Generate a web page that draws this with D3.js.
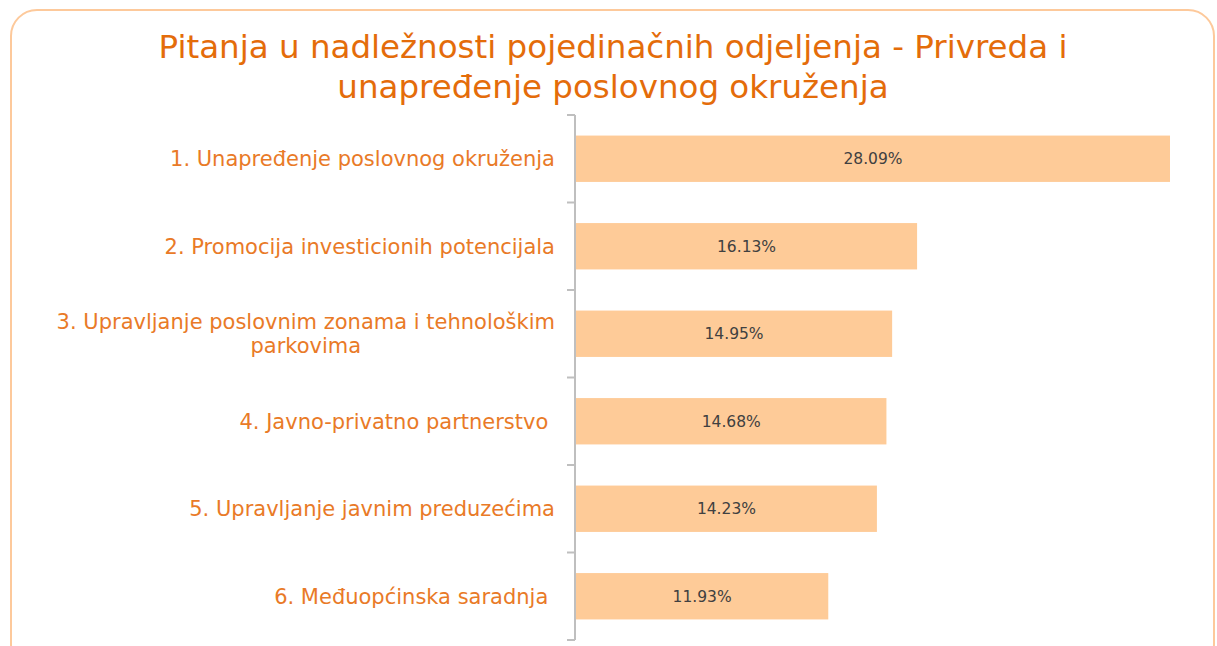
<!DOCTYPE html>
<html>
<head>
<meta charset="utf-8">
<script src="https://cdn.jsdelivr.net/npm/d3@7"></script>
<style>
  body { margin: 0; background: #fff; }
  svg { display: block; }
  text { white-space: pre; }
</style>
</head>
<body>
<div id="chart"></div>
<script>
// data
const categories = [
  "1. Unapređenje poslovnog okruženja",
  "2. Promocija investicionih potencijala",
  "3. Upravljanje poslovnim zonama i tehnološkim parkovima",
  "4. Javno-privatno partnerstvo",
  "5. Upravljanje javnim preduzećima",
  "6. Međuopćinska saradnja"
];
// wrapped category labels, as in the picture
const labelLines = [
  ["1. Unapređenje poslovnog okruženja"],
  ["2. Promocija investicionih potencijala"],
  ["3. Upravljanje poslovnim zonama i tehnološkim", "parkovima"],
  ["4. Javno-privatno partnerstvo "],
  ["5. Upravljanje javnim preduzećima"],
  ["6. Međuopćinska saradnja "]
];
const values = [28.09, 16.13, 14.95, 14.68, 14.23, 11.93];
const titleLines = [
  "Pitanja u nadležnosti pojedinačnih odjeljenja - Privreda i",
  "unapređenje poslovnog okruženja"
];

const W = 1217, H = 646;
const font = "'DejaVu Sans', Verdana, sans-serif";

const svg = d3.select("#chart").append("svg")
  .attr("width", W)
  .attr("height", H);

// rounded frame
svg.append("rect")
  .attr("x", 11).attr("y", 10)
  .attr("width", 1203).attr("height", 660)
  .attr("rx", 26).attr("ry", 26)
  .attr("fill", "#fff")
  .attr("stroke", "#fdc99b")
  .attr("stroke-width", 2);

// title
svg.append("text")
  .attr("x", 613).attr("y", 58)
  .attr("text-anchor", "middle")
  .style("font-family", font)
  .style("font-size", "32.5px")
  .style("fill", "#e46c0a")
  .selectAll("tspan")
  .data(titleLines)
  .join("tspan")
  .attr("x", 613)
  .attr("dy", (d, i) => i === 0 ? 0 : 40)
  .text(d => d);

const margin = {top: 115, left: 576};
const plotW = 1170 - margin.left, plotH = 640 - margin.top;

const g = svg.append("g")
  .attr("transform", `translate(${margin.left},${margin.top})`);

const x = d3.scaleLinear()
  .domain([0, 28.09])
  .range([0, plotW]);

const y = d3.scaleBand()
  .domain(categories)
  .range([0, plotH])
  .paddingInner(0.47)
  .paddingOuter(0.235);

// bars
g.selectAll("rect.bar")
  .data(values)
  .join("rect")
  .attr("class", "bar")
  .attr("x", 0)
  .attr("y", (d, i) => y(categories[i]))
  .attr("width", d => x(d))
  .attr("height", y.bandwidth())
  .attr("fill", "#fecb98");

// value labels
g.selectAll("text.val")
  .data(values)
  .join("text")
  .attr("class", "val")
  .attr("x", d => x(d) / 2)
  .attr("y", (d, i) => y(categories[i]) + y.bandwidth() / 2)
  .attr("dy", "0.35em")
  .attr("text-anchor", "middle")
  .style("font-family", font)
  .style("font-size", "15.5px")
  .style("fill", "#404040")
  .text(d => d.toFixed(2) + "%");

// axis line with ticks on band boundaries
const boundaries = d3.range(categories.length + 1).map(i => i * plotH / categories.length);
g.append("line")
  .attr("x1", -1).attr("x2", -1)
  .attr("y1", 0).attr("y2", plotH)
  .attr("stroke", "#bfbfbf").attr("stroke-width", 2);
g.selectAll("line.tick")
  .data(boundaries)
  .join("line")
  .attr("class", "tick")
  .attr("x1", -9).attr("x2", -1)
  .attr("y1", d => d).attr("y2", d => d)
  .attr("stroke", "#bfbfbf").attr("stroke-width", 2);

// category labels
g.selectAll("text.cat")
  .data(labelLines)
  .join("text")
  .attr("class", "cat")
  .style("font-family", font)
  .style("font-size", "21px")
  .style("fill", "#e97a27")
  .each(function(lines, i) {
    const cy = y(categories[i]) + y.bandwidth() / 2;
    const lh = 24;
    const sel = d3.select(this);
    let firstW = 0;
    lines.forEach((ln, j) => {
      const t = sel.append("tspan")
        .attr("y", cy + (j - (lines.length - 1) / 2) * lh)
        .attr("dy", "0.35em")
        .text(ln);
      if (j === 0) {
        t.attr("x", -21).attr("text-anchor", "end");
        firstW = t.node().getComputedTextLength();
      } else {
        t.attr("x", -21 - firstW / 2).attr("text-anchor", "middle");
      }
    });
  });
</script>
</body>
</html>
